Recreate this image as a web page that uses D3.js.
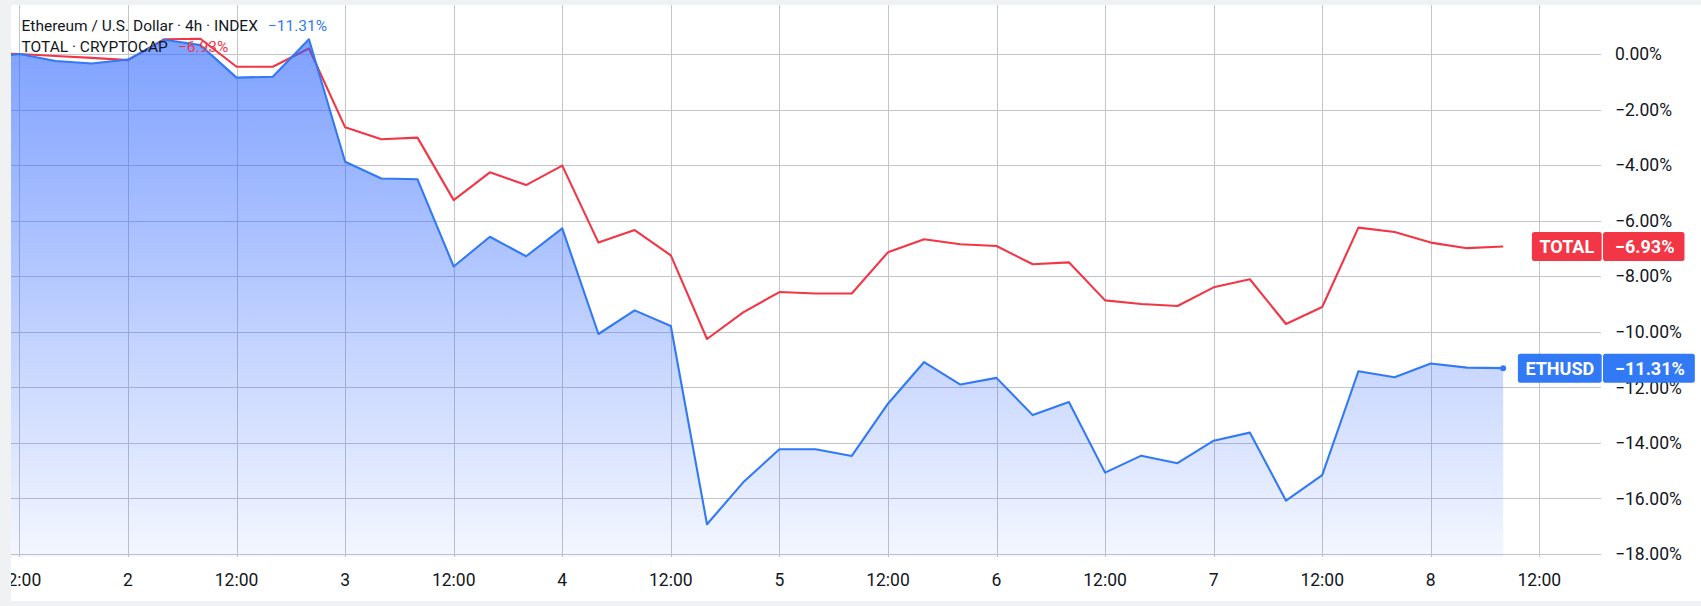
<!DOCTYPE html>
<html>
<head>
<meta charset="utf-8">
<script src="https://cdn.jsdelivr.net/npm/d3@7/dist/d3.min.js"></script>
<style>
html, body { margin: 0; padding: 0; background: #ffffff; }
svg { display: block; }
</style>
</head>
<body>
<svg id="chart" width="1701" height="606"></svg>
<script>
// ---------------- DATA ----------------
// 4h bars, first bar: day 1 08:00 (UTC)
const seriesStart = Date.UTC(2023, 0, 1, 8);
const barHours = 4;

// ETHUSD percent change (%)
const ethValues = [
  -0.15, 0.00, -0.25, -0.34, -0.20, 0.51, 0.32, -0.85, -0.82, 0.53,
  -3.88, -4.48, -4.51, -7.65, -6.58, -7.28, -6.28, -10.08, -9.23, -9.79,
  -16.93, -15.42, -14.23, -14.23, -14.47, -12.59, -11.09, -11.90, -11.66, -13.00,
  -12.53, -15.07, -14.46, -14.73, -13.92, -13.63, -16.08, -15.16, -11.42, -11.64,
  -11.14, -11.29, -11.31
];

// TOTAL (crypto market cap) percent change (%)
const totalValues = [
  0.05, 0.00, -0.07, -0.14, -0.22, 0.53, 0.55, -0.46, -0.46, 0.20,
  -2.64, -3.07, -3.01, -5.26, -4.26, -4.72, -4.02, -6.79, -6.34, -7.25,
  -10.26, -9.30, -8.57, -8.62, -8.62, -7.14, -6.67, -6.85, -6.91, -7.57,
  -7.50, -8.87, -9.00, -9.07, -8.40, -8.11, -9.72, -9.11, -6.25, -6.41,
  -6.79, -6.99, -6.93
];

const yTickValues = [0, -2, -4, -6, -8, -10, -12, -14, -16, -18];

const legendTitles = ["Ethereum / U.S. Dollar · 4h · INDEX", "TOTAL · CRYPTOCAP"];
const legendValues = ["−11.31%", "−6.93%"];
const labelNames = ["ETHUSD", "TOTAL"];

const ethColor = "#3179f5";
const totalColor = "#f23645";
const textColor = "#131722";

// ---------------- LAYOUT ----------------
const W = 1701, H = 606;
const plot = { left: 11, top: 5, right: 1601, bottom: 557 };
const FONT = "Roboto, 'Noto Sans', 'DejaVu Sans', sans-serif";

const times = ethValues.map((_, i) => new Date(seriesStart + i * barHours * 3600e3));
const ethData = ethValues.map((v, i) => ({ t: times[i], v }));
const totalData = totalValues.map((v, i) => ({ t: times[i], v }));

const x = d3.scaleUtc()
  .domain([new Date(Date.UTC(2023, 0, 1, 11, 4)), new Date(Date.UTC(2023, 0, 8, 18, 49))])
  .range([plot.left, plot.right]);
const y = d3.scaleLinear()
  .domain([-18.108, 1.764])
  .range([plot.bottom, plot.top]);

const svg = d3.select("#chart");

svg.append("rect").attr("width", W).attr("height", H).attr("fill", "#ffffff");

const defs = svg.append("defs");
defs.append("clipPath").attr("id", "plotClip")
  .append("rect")
  .attr("x", plot.left).attr("y", plot.top)
  .attr("width", plot.right - plot.left).attr("height", plot.bottom - plot.top);
defs.append("clipPath").attr("id", "xAxisClip")
  .append("rect")
  .attr("x", plot.left).attr("y", plot.bottom)
  .attr("width", plot.right - plot.left).attr("height", H - plot.bottom);

const grad = defs.append("linearGradient").attr("id", "ethFill")
  .attr("gradientUnits", "userSpaceOnUse")
  .attr("x1", 0).attr("x2", 0)
  .attr("y1", y(d3.max(ethValues))).attr("y2", plot.bottom);
grad.append("stop").attr("offset", 0).attr("stop-color", "rgb(41,98,255)").attr("stop-opacity", 0.6);
grad.append("stop").attr("offset", 1).attr("stop-color", "rgb(41,98,255)").attr("stop-opacity", 0.05);

// ---------------- GRID ----------------
const xTicks = x.ticks(d3.utcHour.every(12));
const grid = svg.append("g").attr("stroke", "#c3c5cb").attr("stroke-width", 1).attr("shape-rendering", "crispEdges");
grid.selectAll("line.h").data(yTickValues).join("line")
  .attr("class", "h")
  .attr("x1", plot.left).attr("x2", plot.right)
  .attr("y1", d => Math.round(y(d)) + 0.5).attr("y2", d => Math.round(y(d)) + 0.5);
grid.selectAll("line.v").data(xTicks).join("line")
  .attr("class", "v")
  .attr("x1", d => Math.round(x(d)) + 0.5).attr("x2", d => Math.round(x(d)) + 0.5)
  .attr("y1", plot.top).attr("y2", plot.bottom);

// ---------------- SERIES ----------------
const plotG = svg.append("g").attr("clip-path", "url(#plotClip)");

const line = d3.line().x(d => x(d.t)).y(d => y(d.v));
const area = d3.area().x(d => x(d.t)).y0(plot.bottom).y1(d => y(d.v));

plotG.append("path").datum(totalData)
  .attr("d", line).attr("fill", "none")
  .attr("stroke", totalColor).attr("stroke-width", 2.1).attr("stroke-linejoin", "round");

plotG.append("path").datum(ethData)
  .attr("d", area).attr("fill", "url(#ethFill)");

plotG.append("path").datum(ethData)
  .attr("d", line).attr("fill", "none")
  .attr("stroke", ethColor).attr("stroke-width", 2.1).attr("stroke-linejoin", "round");

const lastEth = ethData[ethData.length - 1];
plotG.append("circle")
  .attr("cx", x(lastEth.t)).attr("cy", y(lastEth.v)).attr("r", 3)
  .attr("fill", ethColor);

// ---------------- Y AXIS ----------------
const fmt = d3.format(".2f");
svg.append("g").selectAll("text").data(yTickValues).join("text")
  .attr("x", 1615)
  .attr("y", d => y(d) + 6.2)
  .attr("font-family", FONT).attr("font-size", 17.5)
  .attr("fill", textColor)
  .text(d => fmt(d) + "%");

// ---------------- X AXIS ----------------
svg.append("g").attr("clip-path", "url(#xAxisClip)")
  .selectAll("text").data(xTicks).join("text")
  .attr("x", d => x(d))
  .attr("y", 586)
  .attr("text-anchor", "middle")
  .attr("font-family", FONT).attr("font-size", 17.5)
  .attr("fill", textColor)
  .text(d => d.getUTCHours() === 0 ? String(d.getUTCDate()) : d3.utcFormat("%H:%M")(d));

// ---------------- LEGEND ----------------
const legendColors = [ethColor, totalColor];
legendTitles.forEach((title, i) => {
  const t = svg.append("text")
    .attr("x", 21.5).attr("y", 31 + i * 21)
    .attr("font-family", FONT).attr("font-size", 15.5)
    .attr("fill", textColor);
  t.append("tspan").text(title);
  t.append("tspan").attr("dx", 10).attr("fill", legendColors[i]).text(legendValues[i]);
});

// ---------------- PRICE LABELS ----------------
function priceLabel(name, value, valueText, color) {
  const cy = y(value);
  const g = svg.append("g");
  const hgt = 29;
  const nameBox = g.append("rect");
  const valBox = g.append("rect");
  const nameT = g.append("text").text(name)
    .attr("font-family", FONT).attr("font-size", 18).attr("font-weight", "bold")
    .attr("fill", "#ffffff").attr("text-anchor", "middle");
  const valT = g.append("text").text(valueText)
    .attr("font-family", FONT).attr("font-size", 18).attr("font-weight", "bold")
    .attr("fill", "#ffffff");
  const wN = nameT.node().getComputedTextLength();
  const wV = valT.node().getComputedTextLength();
  const nameRight = plot.right + 0.7;
  const nameW = wN + 15;
  nameBox.attr("x", nameRight - nameW).attr("y", cy - hgt / 2)
    .attr("width", nameW).attr("height", hgt).attr("rx", 2.5).attr("fill", color);
  nameT.attr("x", nameRight - nameW / 2).attr("y", cy + 6.4);
  const valX = plot.right + 2;
  valBox.attr("x", valX).attr("y", cy - hgt / 2)
    .attr("width", wV + 22).attr("height", hgt).attr("rx", 2.5).attr("fill", color);
  valT.attr("x", valX + 12).attr("y", cy + 6.4);
}
priceLabel(labelNames[1], totalValues[totalValues.length - 1], legendValues[1], totalColor);
priceLabel(labelNames[0], ethValues[ethValues.length - 1], legendValues[0], ethColor);

// ---------------- OUTER FRAME ----------------
const frame = "#f0f1f3";
svg.append("rect").attr("x", 0).attr("y", 0).attr("width", W).attr("height", plot.top).attr("fill", frame);
svg.append("rect").attr("x", 0).attr("y", 0).attr("width", plot.left).attr("height", H).attr("fill", frame);
svg.append("rect").attr("x", 0).attr("y", 601).attr("width", W).attr("height", H - 601).attr("fill", frame);
</script>
</body>
</html>
